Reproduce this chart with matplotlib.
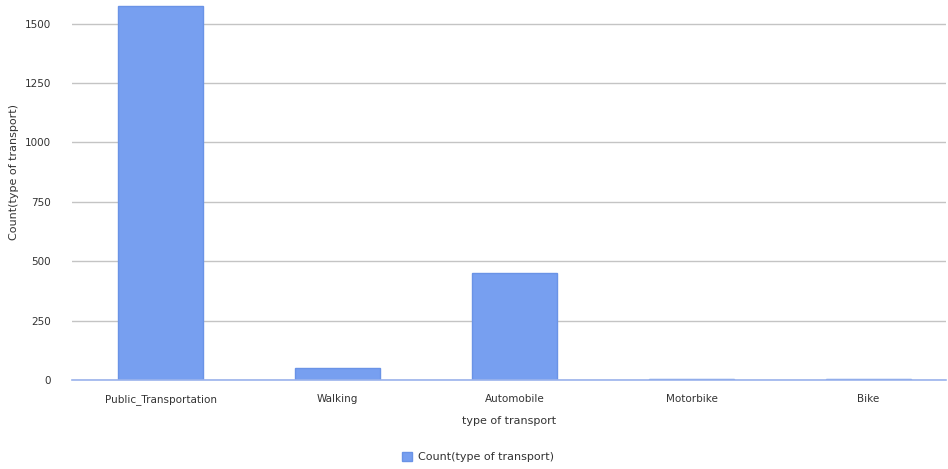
import matplotlib.pyplot as plt
import numpy as np

# Transport counts
categories = ["Public_Transportation", "Walking", "Automobile", "Motorbike", "Bike"]
counts = [1576, 50, 450, 5, 5]
yticks = [0, 250, 500, 750, 1000, 1250, 1500]

W, H = 948, 469
fig = plt.figure(figsize=(W / 100, H / 100), dpi=100)
ax = fig.add_axes([72 / W, (H - 380) / H, (946 - 72) / W, 380 / H])

x = np.arange(len(categories))
ax.bar(x, counts, width=0.475, color="#779ff0", edgecolor="#6a93e6",
       linewidth=1, label="Count(type of transport)", zorder=3)

ax.set_xlim(-0.5, -0.5 + 874 / 177)
ax.set_ylim(0, 1600)
ax.set_yticks(yticks)
ax.set_xticks(x)
ax.set_xticklabels(categories)
ax.tick_params(axis="both", length=0, labelsize=7.5, colors="#333333")
ax.tick_params(axis="y", pad=15)
ax.tick_params(axis="x", pad=10)
ax.grid(axis="y", color="#c4c4c4", linewidth=1, zorder=0)

for s in ["top", "right", "left"]:
    ax.spines[s].set_visible(False)
ax.spines["bottom"].set_color("#9bb3ec")
ax.spines["bottom"].set_linewidth(1.2)
ax.spines["bottom"].set_zorder(4)

ax.set_xlabel("type of transport", fontsize=8, color="#333333", labelpad=8)
fig.text(14 / W, 1 - 172 / H, "Count(type of transport)", rotation=90,
         ha="center", va="center", fontsize=8, color="#333333")

leg = fig.legend(loc="center", bbox_to_anchor=(478 / W, 1 - 457 / H),
                 frameon=False, fontsize=8, handlelength=0.9, handleheight=0.9,
                 handletextpad=0.6)
for t in leg.get_texts():
    t.set_color("#333333")

fig.savefig("out.png", dpi=100)
